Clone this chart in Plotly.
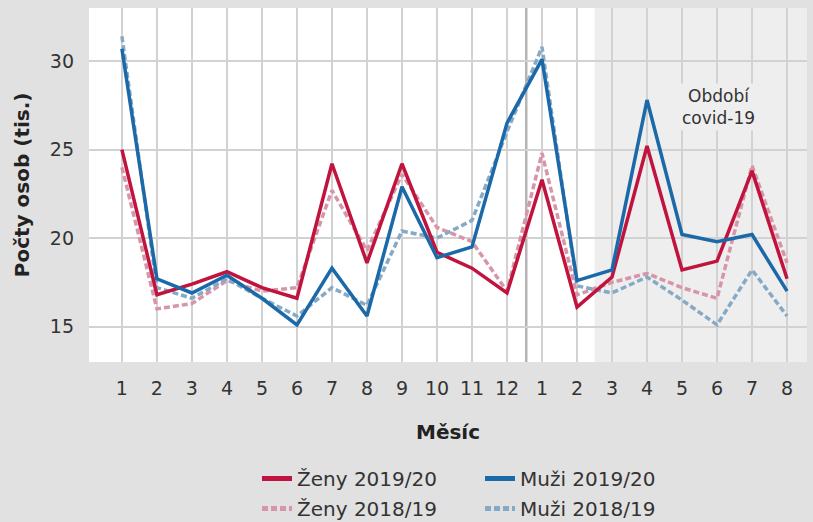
import plotly.graph_objects as go

months = ["1","2","3","4","5","6","7","8","9","10","11","12","1","2","3","4","5","6","7","8"]
x_idx = list(range(len(months)))

zeny_1920 = [25.0, 16.8, 17.4, 18.1, 17.2, 16.6, 24.2, 18.6, 24.2, 19.2, 18.3, 16.9,
             23.3, 16.1, 17.8, 25.2, 18.2, 18.7, 23.8, 17.7]
muzi_1920 = [30.7, 17.7, 16.9, 17.9, 16.6, 15.1, 18.3, 15.6, 22.9, 18.9, 19.5, 26.5,
             30.1, 17.6, 18.2, 27.8, 20.2, 19.8, 20.2, 17.0]
zeny_1819 = [24.0, 16.0, 16.3, 17.6, 17.0, 17.2, 22.7, 19.3, 23.6, 20.6, 19.8, 17.0,
             24.8, 16.8, 17.5, 18.0, 17.2, 16.6, 24.1, 18.6]
muzi_1819 = [31.4, 17.2, 16.6, 17.7, 16.6, 15.6, 17.2, 16.2, 20.4, 20.0, 21.0, 26.0,
             30.8, 17.3, 16.9, 17.8, 16.5, 15.1, 18.2, 15.6]

y_ticks = [15, 20, 25, 30]
year_split = 11.55
covid_start = 13.5
X_RANGE = [-0.94, 19.57]
Y_RANGE = [13, 33]

RED = "#c0143f"
BLUE = "#1b69a8"
PINK = "#d895a8"
LBLUE = "#86a9c6"
FONT = "DejaVu Sans"

fig = go.Figure()
fig.add_trace(go.Scatter(x=x_idx, y=zeny_1819, mode="lines", name="Ženy 2018/19",
                         line=dict(color=PINK, width=3.5, dash="6px,3px"), legend="legend2"))
fig.add_trace(go.Scatter(x=x_idx, y=muzi_1819, mode="lines", name="Muži 2018/19",
                         line=dict(color=LBLUE, width=3.5, dash="6px,3px"), legend="legend2"))
fig.add_trace(go.Scatter(x=x_idx, y=zeny_1920, mode="lines", name="Ženy 2019/20",
                         line=dict(color=RED, width=3.5), legend="legend"))
fig.add_trace(go.Scatter(x=x_idx, y=muzi_1920, mode="lines", name="Muži 2019/20",
                         line=dict(color=BLUE, width=3.5), legend="legend"))

fig.add_vrect(x0=covid_start, x1=X_RANGE[1], fillcolor="#eeeeee", line_width=0, layer="below")
fig.add_vline(x=year_split, line=dict(color="#b4b4b4", width=2.5), layer="below")

fig.add_annotation(x=17.03, y=27.4, text="Období<br>covid-19", showarrow=False,
                   font=dict(family=FONT, size=17, color="#333333"),
                   bgcolor="#eeeeee", borderpad=2)
fig.add_annotation(x=0.5, y=-0.198, xref="paper", yref="paper", text="<b>Měsíc</b>",
                   showarrow=False, font=dict(family=FONT, size=20, color="#222222"),
                   yanchor="middle")
fig.add_annotation(x=-0.093, y=0.5, xref="paper", yref="paper", text="<b>Počty osob (tis.)</b>",
                   showarrow=False, textangle=-90, font=dict(family=FONT, size=20, color="#222222"),
                   xanchor="center", yanchor="middle")

legend_common = dict(orientation="h", xanchor="left", yanchor="top",
                     xref="container", yref="container",
                     font=dict(family=FONT, size=20, color="#333333"),
                     bgcolor="rgba(0,0,0,0)", entrywidth=178, entrywidthmode="pixels",
                     itemsizing="constant", tracegroupgap=0, traceorder="normal")

fig.update_layout(
    width=813, height=522,
    margin=dict(l=89, r=6, t=8, b=160),
    paper_bgcolor="#e1e1e1",
    plot_bgcolor="#ffffff",
    font=dict(family=FONT, color="#333333"),
    showlegend=True,
    legend=dict(x=257 / 813, y=1 - 459 / 522, **legend_common),
    legend2=dict(x=257 / 813, y=1 - 489 / 522, **legend_common),
    xaxis=dict(range=X_RANGE, tickvals=x_idx, ticktext=months, automargin=False,
               showgrid=True, gridcolor="#d2d2d2", gridwidth=2, zeroline=False,
               showline=False, ticks="", ticklabelstandoff=13,
               tickfont=dict(family=FONT, size=19, color="#333333")),
    yaxis=dict(range=Y_RANGE, tickvals=y_ticks, automargin=False, showgrid=True,
               gridcolor="#d2d2d2", gridwidth=2, zeroline=False, showline=False,
               ticks="", ticklabelstandoff=14,
               tickfont=dict(family=FONT, size=19, color="#333333")),
)

fig.write_html("out.html", config={"displayModeBar": False},
               post_script="document.body.style.margin='0px';document.body.style.padding='0px';")
